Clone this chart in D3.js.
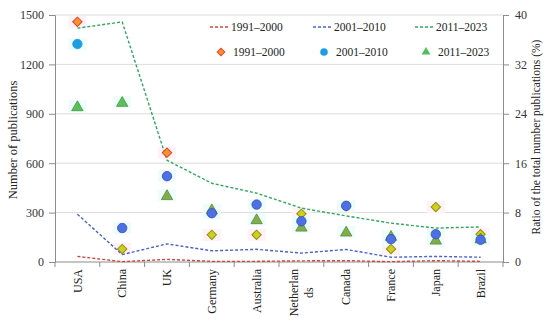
<!DOCTYPE html>
<html>
<head>
<meta charset="utf-8">
<script src="https://cdn.jsdelivr.net/npm/d3@7"></script>
<style>
body{margin:0;background:#fff;}
text{font-family:"Liberation Serif","DejaVu Serif",serif;fill:#222;}
</style>
</head>
<body>
<div id="chart"></div>
<script>
var countries=["USA","China","UK","Germany","Australia","Netherlands","Canada","France","Japan","Brazil"];
var periods=["1991–2000","2001–2010","2011–2023"];
// number of publications (left axis), drawn as dashed lines
var count1991=[34,2,16,4,4,7,8,2,8,4];
var count2001=[290,45,110,68,77,54,76,29,34,29];
var count2011=[1420,1458,618,478,418,327,280,236,206,213];
// ratio of the total (%) (right axis), drawn as markers
var ratio1991=[38.9,2.1,17.7,4.4,4.4,7.8,9.0,2.1,8.9,4.5];
var ratio2001=[35.3,5.5,13.9,7.9,9.3,6.6,9.1,3.7,4.5,3.6];
var ratio2011=[25.2,25.9,10.8,8.5,6.9,5.7,4.9,4.2,3.6,3.8];
var leftTicks=[0,300,600,900,1200,1500];
var rightTicks=[0,8,16,24,32,40];

var wide=550,high=326;
var x0=55,x1=503,ytop=15,base=262;
var svg=d3.select("#chart").append("svg").attr("width",wide).attr("height",high);

var xscale=d3.scaleBand().domain(countries).range([x0,x1]);
var yleft=d3.scaleLinear().domain([0,1500]).range([base,ytop]);
var yright=d3.scaleLinear().domain([0,40]).range([base,ytop]);
function cx(d){return xscale(d)+xscale.bandwidth()/2;}

// grid
svg.append("g").selectAll("line").data(leftTicks.slice(1)).enter().append("line")
  .attr("x1",x0).attr("x2",x1)
  .attr("y1",function(d){return yleft(d);}).attr("y2",function(d){return yleft(d);})
  .style("stroke","#dcdcdc").style("stroke-width",1);

// axes
var lAxis=svg.append("g").attr("transform","translate("+x0+",0)")
  .call(d3.axisLeft(yleft).tickValues(leftTicks).tickFormat(d3.format("d")).tickSize(6).tickPadding(5));
var rAxis=svg.append("g").attr("transform","translate("+x1+",0)")
  .call(d3.axisRight(yright).tickValues(rightTicks).tickSize(6).tickPadding(6));
[lAxis,rAxis].forEach(function(a){
  a.select(".domain").style("stroke","#8c8c8c");
  a.selectAll(".tick line").style("stroke","#8c8c8c");
  a.selectAll(".tick text").style("font-family","Liberation Serif, serif").style("font-size","12px").style("fill","#333");
});
svg.append("line").attr("x1",x0).attr("x2",x1).attr("y1",base).attr("y2",base).style("stroke","#8c8c8c");
svg.append("g").selectAll("line").data(countries.concat([null])).enter().append("line")
  .attr("x1",function(d){return d===null?x1:xscale(d);})
  .attr("x2",function(d){return d===null?x1:xscale(d);})
  .attr("y1",base).attr("y2",base+5)
  .style("stroke","#8c8c8c");

// category labels
var labs=svg.append("g").selectAll("text").data(countries).enter().append("text")
  .attr("transform",function(d){return "translate("+cx(d)+",269)rotate(-90)";})
  .attr("text-anchor","middle")
  .style("font-size","12px");
labs.each(function(d){
  var t=d3.select(this);
  var lines=d.length>10?[d.slice(0,9),d.slice(9)]:[d];
  lines.forEach(function(s,i){
    t.append("tspan").attr("dy",i===0?(lines.length>1?"-0.3em":"0.35em"):"1.3em").text(s);
  });
  var w=d3.max(t.selectAll("tspan").nodes(),function(n){return n.getComputedTextLength();});
  t.selectAll("tspan").attr("x",-w/2);
});

// axis titles
svg.append("text").attr("transform","translate(17,140)rotate(-90)")
  .attr("text-anchor","middle").style("font-size","12.5px").text("Number of publications");
svg.append("text").attr("transform","translate(540,137)rotate(-90)")
  .attr("text-anchor","middle").style("font-size","11.5px").text("Ratio of the total number publications (%)");

// faint label boxes behind markers
var boxes=svg.append("g");
function addBoxes(vals,fill){
  boxes.selectAll(null).data(vals).enter().append("rect")
    .attr("x",function(d,i){return cx(countries[i])-9;})
    .attr("y",function(d){return yright(d)-6;})
    .attr("width",18).attr("height",12)
    .style("fill",fill);
}
addBoxes(ratio1991,"#fef2f7");
addBoxes(ratio2001,"#eefcfc");
addBoxes(ratio2011,"#eefcfc");

// dashed lines
var lineColors=["#d2453d","#4a62cf","#2fa860"];
var line=d3.line().x(function(d,i){return cx(countries[i]);}).y(function(d){return yleft(d);});
[count1991,count2001,count2011].forEach(function(s,k){
  svg.append("path").datum(s).attr("d",line)
    .style("fill","none").style("stroke",lineColors[k])
    .style("stroke-width",1.4).style("stroke-dasharray","3,2");
});

// markers
var diamond=d3.symbol().type(d3.symbolSquare).size(44);
var circle=d3.symbol().type(d3.symbolCircle).size(70);
var tri=d3.symbol().type(d3.symbolTriangle).size(56);
function diaFill(i){return i===0||i===2?"#f7932b":"#cfcf1e";}
function diaStroke(i){return i===0||i===2?"#e8402a":"#8f8f10";}
function cirFill(i){return i===0?"#1e9ee0":"#4d70e6";}
function cirStroke(i){return i===0?"#1e9ee0":"#3450b0";}
function triFill(i){return i<2?"#5cbf5a":"#7fae4e";}
function triStroke(i){return i<2?"#3f9a3f":"#5a8a35";}
svg.append("g").selectAll("path").data(ratio1991).enter().append("path")
  .attr("d",diamond)
  .attr("transform",function(d,i){return "translate("+cx(countries[i])+","+yright(d)+")rotate(45)";})
  .style("fill",function(d,i){return diaFill(i);})
  .style("stroke",function(d,i){return diaStroke(i);}).style("stroke-width",1);
svg.append("g").selectAll("path").data(ratio2011).enter().append("path")
  .attr("d",tri)
  .attr("transform",function(d,i){return "translate("+cx(countries[i])+","+(yright(d)+1)+")";})
  .style("fill",function(d,i){return triFill(i);})
  .style("stroke",function(d,i){return triStroke(i);}).style("stroke-width",0.8);
svg.append("g").selectAll("path").data(ratio2001).enter().append("path")
  .attr("d",circle)
  .attr("transform",function(d,i){return "translate("+cx(countries[i])+","+yright(d)+")";})
  .style("fill",function(d,i){return cirFill(i);})
  .style("stroke",function(d,i){return cirStroke(i);}).style("stroke-width",0.8);

// legend
var legX=[210,313,415];
var leg=svg.append("g");
periods.forEach(function(p,k){
  leg.append("line").attr("x1",legX[k]).attr("x2",legX[k]+19).attr("y1",27).attr("y2",27)
    .style("stroke",lineColors[k]).style("stroke-width",1.4).style("stroke-dasharray","3,2");
  leg.append("text").attr("x",legX[k]+21).attr("y",31).style("font-size","11.5px").text(p);
  var m=leg.append("path").attr("transform","translate("+(legX[k]+11)+",52)"+(k===0?"rotate(45)":""));
  if(k===0){m.attr("d",d3.symbol().type(d3.symbolSquare).size(28)).style("fill","#f7932b").style("stroke","#e8402a");}
  if(k===1){m.attr("d",d3.symbol().type(d3.symbolCircle).size(45)).style("fill","#1e9ee0");}
  if(k===2){m.attr("d",d3.symbol().type(d3.symbolTriangle).size(34)).style("fill","#4fbf5a");}
  leg.append("text").attr("x",legX[k]+23).attr("y",56).style("font-size","11.5px").text(p);
});
</script>
</body>
</html>
